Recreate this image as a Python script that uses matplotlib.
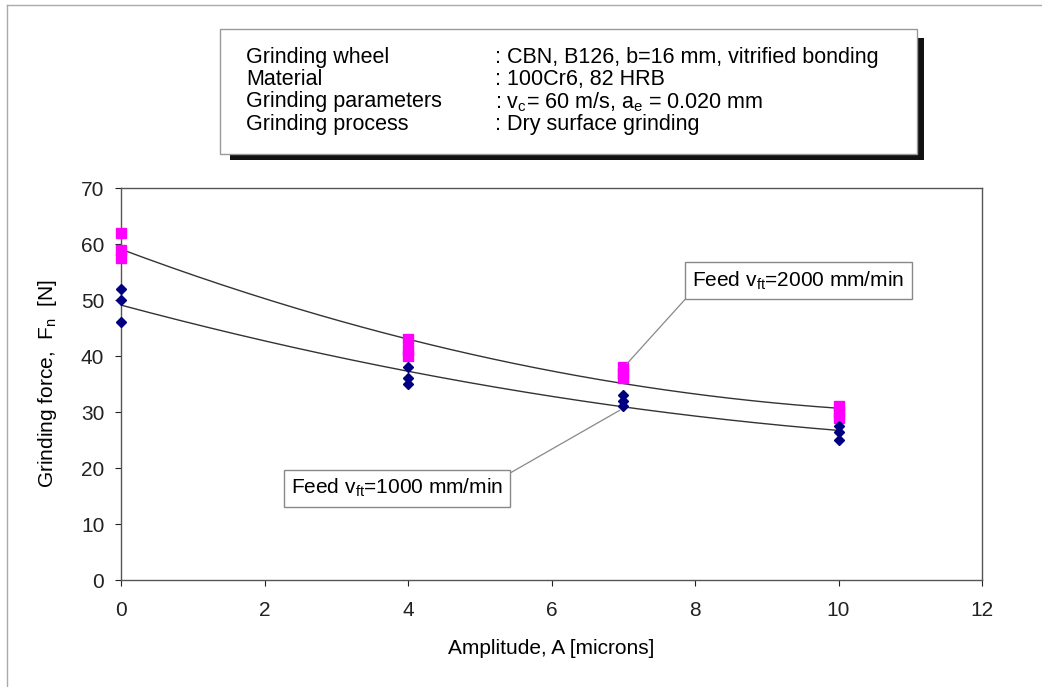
import numpy as np
import matplotlib
matplotlib.use("Agg")
import matplotlib.pyplot as plt
from matplotlib.patches import Rectangle
from matplotlib.lines import Line2D

plt.rcParams['font.family'] = ['Liberation Sans', 'DejaVu Sans']
plt.rcParams['mathtext.default'] = 'regular'

amp_2000 = [0, 0, 0, 4, 4, 4, 7, 7, 7, 10, 10, 10]
force_2000 = [62, 59, 57.5, 43, 41, 40, 38, 37, 36, 31, 30, 29]
amp_1000 = [0, 0, 0, 4, 4, 4, 7, 7, 7, 10, 10, 10]
force_1000 = [52, 50, 46, 38, 36, 35, 33, 32, 31, 27.5, 26.5, 25]

info_keys = ["Grinding wheel", "Material", "Grinding parameters", "Grinding process"]
info_vals = [": CBN, B126, b=16 mm, vitrified bonding",
             ": 100Cr6, 82 HRB",
             ": v$_c$= 60 m/s, a$_e$ = 0.020 mm",
             ": Dry surface grinding"]

W, H = 1042, 687
FS = 15
fig = plt.figure(figsize=(W / 100, H / 100), dpi=100)


def fx(px):
    return px / W


def fy(py):
    return 1 - py / H


ax = fig.add_axes([fx(121), fy(580), fx(982) - fx(121), fy(188) - fy(580)])

# Trend lines (2nd order polynomial fit, like Excel)
xs = np.linspace(0, 10, 200)
for xd, yd in [(amp_2000, force_2000), (amp_1000, force_1000)]:
    coef = np.polyfit(xd, yd, 2)
    ax.plot(xs, np.polyval(coef, xs), color='#333333', lw=1.0, zorder=2)

ax.plot(amp_2000, force_2000, 's', color='#ff00ff', ms=6.5, mec='#ff00ff', ls='none',
        zorder=3, clip_on=False)
ax.plot(amp_1000, force_1000, 'D', color='#000080', ms=5, mec='#000080', ls='none',
        zorder=3, clip_on=False)

ax.set_xlim(0, 12)
ax.set_ylim(0, 70)
ax.set_xticks(range(0, 13, 2))
ax.set_yticks(range(0, 71, 10))
ax.tick_params(direction='out', length=4, labelsize=FS, colors='#222222', pad=8)
ax.tick_params(axis='x', pad=11)
for s in ax.spines.values():
    s.set_color('#555555')
    s.set_linewidth(1.0)

ax.set_xlabel("Amplitude, A [microns]", fontsize=FS, labelpad=14)
ax.set_ylabel("Grinding force,  F$_n$  [N]", fontsize=FS, labelpad=16)

# Feed annotations
ax.annotate("Feed v$_{ft}$=2000 mm/min", xy=(7.05, 38.6), xytext=(7.96, 53.5),
            fontsize=FS, ha='left', va='center',
            bbox=dict(boxstyle='square,pad=0.35', fc='white', ec='#888888', lw=1),
            arrowprops=dict(arrowstyle='-', color='#888888', lw=0.9,
                            relpos=(0.0, 0.0), shrinkA=0, shrinkB=0))
ax.annotate("Feed v$_{ft}$=1000 mm/min", xy=(6.95, 30.3), xytext=(2.37, 16.4),
            fontsize=FS, ha='left', va='center',
            bbox=dict(boxstyle='square,pad=0.35', fc='white', ec='#888888', lw=1),
            arrowprops=dict(arrowstyle='-', color='#888888', lw=0.9,
                            relpos=(1.0, 1.0), shrinkA=0, shrinkB=0))

# Info box with drop shadow
fig.patches.append(Rectangle((fx(230), fy(160)), fx(924) - fx(230), fy(38) - fy(160),
                             transform=fig.transFigure, fc='#111111', ec='none', zorder=1))
fig.patches.append(Rectangle((fx(220), fy(154)), fx(917) - fx(220), fy(29) - fy(154),
                             transform=fig.transFigure, fc='white', ec='#999999', lw=1, zorder=2))
for i, (k, v) in enumerate(zip(info_keys, info_vals)):
    y = fy(57 + i * 22.5)
    fig.text(fx(246), y, k, fontsize=15.5, va='center', ha='left', zorder=3)
    fig.text(fx(495), y, v, fontsize=15.5, va='center', ha='left', zorder=3)

# outer frame lines
fig.add_artist(Line2D([fx(7), 1], [fy(5), fy(5)], transform=fig.transFigure, color='#aaaaaa', lw=1))
fig.add_artist(Line2D([fx(7), fx(7)], [fy(5), 0], transform=fig.transFigure, color='#aaaaaa', lw=1))

fig.savefig("out.png", dpi=100)
